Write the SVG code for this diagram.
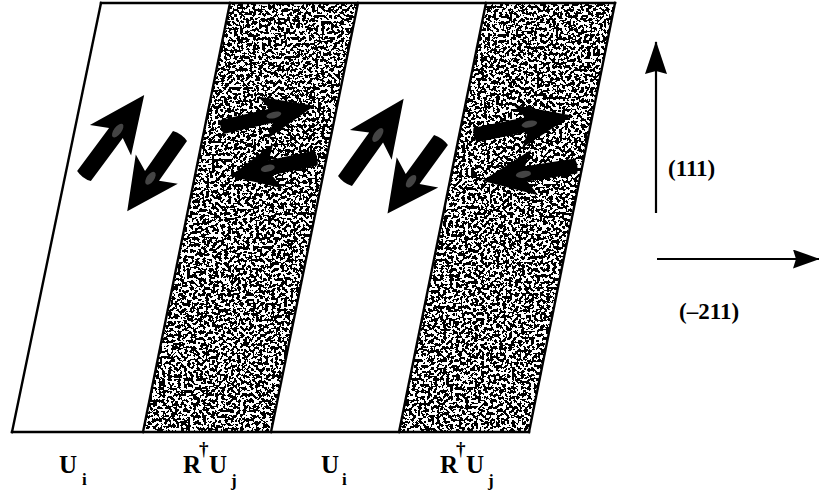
<svg xmlns="http://www.w3.org/2000/svg" xmlns:xlink="http://www.w3.org/1999/xlink" width="819" height="493" viewBox="0 0 819 493">
<style>
.edge{stroke:#000;stroke-width:2.4;fill:none;stroke-linecap:square}
.ax{stroke:#000;stroke-width:2.2;fill:none}
.lab{font-family:"Liberation Serif","Times New Roman",serif;font-weight:bold;fill:#000}
.ml{font-family:"Liberation Serif","Times New Roman",serif;font-weight:bold;fill:#000;font-size:23px}
</style>
<defs>
<filter id="stip" x="0" y="0" width="1" height="1">
<feTurbulence type="fractalNoise" baseFrequency="0.32" numOctaves="2" seed="11" result="n"/>
<feColorMatrix in="n" type="matrix" values="0 0 0 0 0 0 0 0 0 0 0 0 0 0 0 1 0 0 0 0"/>
<feComponentTransfer><feFuncA type="discrete" tableValues="0 0 0 0 0 0 0 0 0 0 1 1 1 1 1 1 1 1 1 1"/></feComponentTransfer>
<feComposite in2="SourceGraphic" operator="in"/>
</filter>
<g id="arr">
<path d="M0,-9 Q-3,0 0,9 L53,9 L44,27 L100,0 L44,-27 L53,-9 Z" fill="#000"/>
<ellipse cx="56" cy="0" rx="8" ry="4" fill="#444"/>
</g>
<marker id="ahv" markerWidth="33" markerHeight="22" refX="32" refY="11" orient="auto" markerUnits="userSpaceOnUse">
<path d="M0,0 L33,11 L0,22 L3,11 Z" fill="#000"/>
</marker>
<marker id="ahh" markerWidth="27" markerHeight="19" refX="26" refY="9.5" orient="auto" markerUnits="userSpaceOnUse">
<path d="M0,0 L27,9.5 L0,19 L3,9.5 Z" fill="#000"/>
</marker>
</defs>
<rect width="819" height="493" fill="#fff"/>

<g id="stripe-Ui-1"><polygon points="101,3 230,3 143,432 12,432" fill="#fff"/></g>
<g id="stripe-RUj-1"><polygon points="230,3 358,3 271,432 143,432" fill="#fff"/><polygon points="230,3 358,3 271,432 143,432" fill="#000" filter="url(#stip)"/></g>
<g id="stripe-Ui-2"><polygon points="358,3 486,3 399,432 271,432" fill="#fff"/></g>
<g id="stripe-RUj-2"><polygon points="486,3 615,3 529,432 399,432" fill="#fff"/><polygon points="486,3 615,3 529,432 399,432" fill="#000" filter="url(#stip)"/></g>

<g id="outline">
<line class="edge" x1="101" y1="3" x2="615" y2="3"/>
<line class="edge" x1="12" y1="432" x2="529" y2="432"/>
<line class="edge" x1="101" y1="3" x2="12" y2="432"/>
<line class="edge" x1="230" y1="3" x2="143" y2="432"/>
<line class="edge" x1="358" y1="3" x2="271" y2="432"/>
<line class="edge" x1="486" y1="3" x2="399" y2="432"/>
<line class="edge" x1="615" y1="3" x2="529" y2="432"/>
</g>

<g id="spins">
<use xlink:href="#arr" href="#arr" transform="translate(84,176) rotate(-53.4) scale(1.01,0.95)"/>
<use xlink:href="#arr" href="#arr" transform="translate(180,136) rotate(125) scale(0.92,0.95)"/>
<use xlink:href="#arr" href="#arr" transform="translate(222,127) rotate(-13) scale(0.95,0.8)"/>
<use xlink:href="#arr" href="#arr" transform="translate(316,158) rotate(168) scale(0.88,0.85)"/>
<use xlink:href="#arr" href="#arr" transform="translate(345,181) rotate(-54.5) scale(1.01,0.95)"/>
<use xlink:href="#arr" href="#arr" transform="translate(441,140) rotate(126) scale(0.91,0.95)"/>
<use xlink:href="#arr" href="#arr" transform="translate(475,135) rotate(-11.4) scale(0.99,0.82)"/>
<use xlink:href="#arr" href="#arr" transform="translate(576,166) rotate(171) scale(0.95,0.85)"/>
</g>

<g id="connectors">
<line class="ax" x1="656" y1="213" x2="656" y2="42" marker-end="url(#ahv)"/>
<line class="ax" x1="657" y1="259" x2="819" y2="259" marker-end="url(#ahh)"/>
</g>
<g id="axis-labels">
<text class="ml" x="668" y="176">(111)</text>
<text class="ml" x="679" y="319">(–211)</text>
</g>

<g id="labels" class="lab">
<text x="59" y="473" font-size="25">U</text><text x="82" y="485" font-size="17">i</text>
<text x="183" y="473" font-size="25">R</text><text x="199" y="455" font-size="19">†</text><text x="209" y="473" font-size="25">U</text><text x="231" y="486" font-size="17">j</text>
<text x="321" y="473" font-size="25">U</text><text x="342" y="485" font-size="17">i</text>
<text x="440" y="473" font-size="25">R</text><text x="456" y="455" font-size="19">†</text><text x="466" y="473" font-size="25">U</text><text x="488" y="486" font-size="17">j</text>
</g>
</svg>
